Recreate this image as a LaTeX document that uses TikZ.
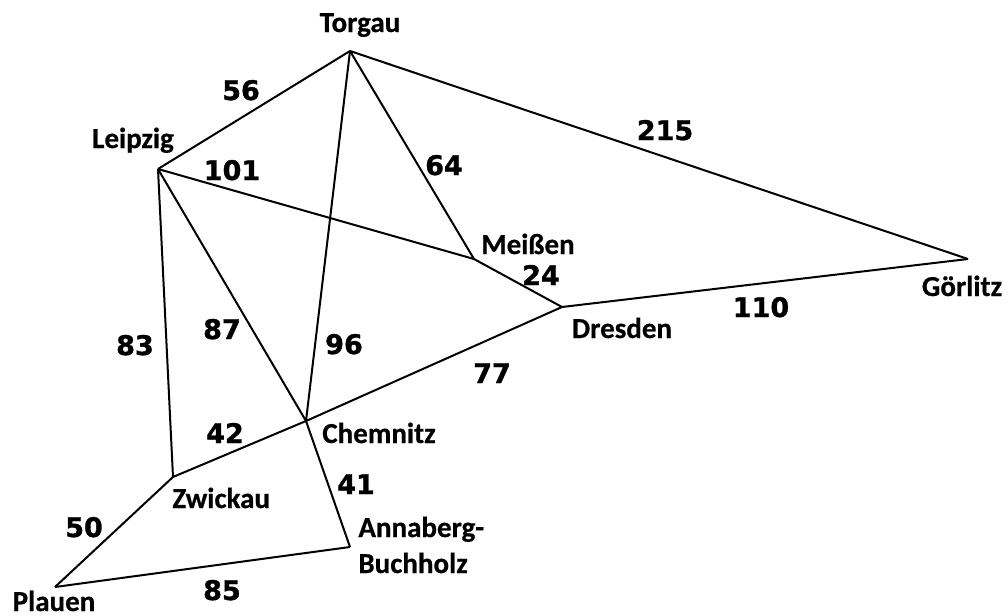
\documentclass[tikz,border=0pt]{standalone}
\usepackage{fontspec}
\newfontfamily\cityfont[FakeBold=0.6]{Carlito Bold}
\newfontfamily\numfont[FakeBold=1.2]{DejaVu Sans Bold}
\begin{document}
\begin{tikzpicture}[x=0.5pt,y=-0.5pt,
  city/.style={font=\cityfont\fontsize{14.5}{17}\selectfont,anchor=base,inner sep=0pt},
  cityl/.style={city,anchor=base west},
  weight/.style={font=\numfont\fontsize{13.5}{16}\selectfont,anchor=base,inner sep=0pt},
  road/.style={line width=1pt,line join=miter}]
\fill[white] (0,0) rectangle (1008,616);
\useasboundingbox (0,0) rectangle (1008,616);
% junction points
\coordinate (T) at (350,51);
\coordinate (L) at (158,169);
\coordinate (M) at (474,259);
\coordinate (D) at (562,307);
\coordinate (G) at (968,259);
\coordinate (C) at (306,421);
\coordinate (Z) at (173,477);
\coordinate (A) at (350,547);
\coordinate (P) at (55,587);
% roads
\draw[road] (T) -- (L);
\draw[road] (T) -- (G);
\draw[road] (T) -- (M);
\draw[road] (T) -- (C);
\draw[road] (L) -- (M);
\draw[road] (L) -- (C);
\draw[road] (L) -- (Z);
\draw[road] (M) -- (D);
\draw[road] (D) -- (G);
\draw[road] (D) -- (C);
\draw[road] (C) -- (Z);
\draw[road] (C) -- (A);
\draw[road] (Z) -- (P);
\draw[road] (P) -- (A);
% city names
\node[city] (Tn) at (360,32) {Torgau};
\node[city] (Ln) at (133,148) {Leipzig};
\node[city] (Mn) at (528,254) {Meißen};
\node[city] (Dn) at (622,338) {Dresden};
\node[city] (Gn) at (962,296) {Görlitz};
\node[city] (Cn) at (379,443) {Chemnitz};
\node[cityl] (Zn) at (172,508) {Zwickau};
\node[cityl] (An1) at (358,537) {Annaberg-};
\node[cityl] (An2) at (358,573) {Buchholz};
\node[city] (Pn) at (54,611) {Plauen};
% distances
\node[weight] (w56) at (241,100) {56};
\node[weight] (w215) at (665,140) {215};
\node[weight] (w101) at (232,180) {101};
\node[weight] (w64) at (444,175) {64};
\node[weight] (w24) at (541,285) {24};
\node[weight] (w110) at (761,317) {110};
\node[weight] (w83) at (135,355) {83};
\node[weight] (w87) at (222,339) {87};
\node[weight] (w96) at (344,354) {96};
\node[weight] (w77) at (492,383) {77};
\node[weight] (w42) at (225,443) {42};
\node[weight] (w41) at (356,494) {41};
\node[weight] (w50) at (84,537) {50};
\node[weight] (w85) at (222,600) {85};
\end{tikzpicture}
\end{document}
